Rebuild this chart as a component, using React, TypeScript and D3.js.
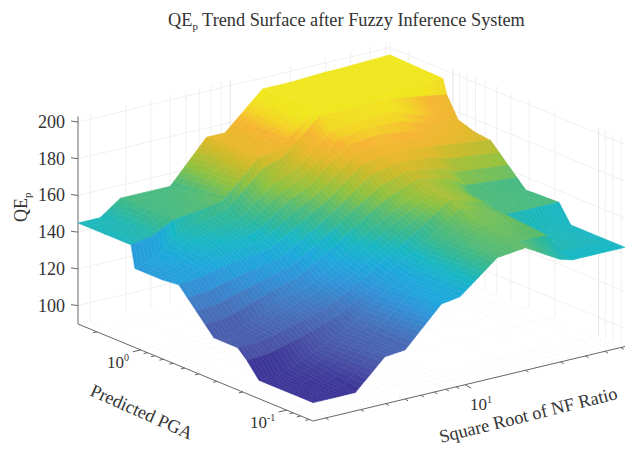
import React from 'react';
import * as d3 from 'd3';

// surface grid: square root of NF ratio across, predicted PGA down
const nfValues = [1.73, 2.23, 2.82, 3.96, 5.0, 7.6, 9.4, 14.5, 20, 29.7, 34.4, 63];
const pgaValues = [2.7, 1.17, 1.1, 0.92, 0.71, 0.55, 0.316, 0.217, 0.187, 0.155, 0.08, 0.066];
const qeValues = [
  [145, 145, 153, 153, 153, 175, 175, 194, 194, 195, 195, 196],
  [145, 147, 153, 155, 157, 176, 177, 195, 195, 195, 195, 195],
  [133, 136, 146, 150, 153, 171, 174, 192, 192, 193, 192, 187],
  [133, 137, 145, 148, 150, 165, 169, 186, 188, 189, 186, 176],
  [133, 136, 142, 145, 147, 160, 165, 182, 184, 182, 180, 173],
  [134, 135, 138, 140, 142, 154, 160, 176, 178, 177, 176, 172],
  [113, 114, 118, 125, 128, 140, 148, 160, 167, 161, 155, 153],
  [113, 113, 116, 120, 124, 135, 142, 155, 166, 160, 154, 153.5],
  [108, 109, 112, 117, 121, 133, 140, 152, 163, 157, 154, 153.7],
  [100, 101, 105, 113, 118, 133, 138, 153, 160, 158, 146, 144],
  [100, 100, 101, 115, 117, 136, 138.5, 155, 157, 156, 146, 144],
  [100, 100, 100, 115.6, 116.7, 137, 138.5, 155, 156.7, 146, 144, 144],
];

const zTicks = [100, 120, 140, 160, 180, 200];
const colorStops = [100, 108, 115, 122, 130, 137, 144, 150, 155, 162, 170, 175, 180, 185, 190];
const colorValues = ['#3d3597', '#4850a6', '#4a62b0', '#4477c0', '#3193d8', '#1fa8dc', '#19b7c4', '#34b894', '#52bb78', '#8fc240', '#c9bb2a', '#e8b82a', '#f6b432', '#f3d524', '#f0e61e'];

const nf = d3.scaleLog().domain([1.73, 63]).range([0, 1]);
const pga = d3.scaleLog().domain([2.7, 0.066]).range([0, 1]);
const zScale = d3.scaleLinear().domain([90, 200]).range([0, 202]);
const color = d3.scaleLinear<string>().domain(colorStops).range(colorValues).clamp(true);

// oblique projection of the MATLAB view: u along NF, v along PGA
const project = (u: number, v: number, z: number): [number, number] => [
  78 + 312 * u + 235 * v,
  324 - 74.5 * u + 97 * v - zScale(z),
];

const line = d3.line();

const bilinear = (i: number, j: number, s: number, t: number) => {
  const a = qeValues[i][j] * (1 - s) + qeValues[i][j + 1] * s;
  const b = qeValues[i + 1][j] * (1 - s) + qeValues[i + 1][j + 1] * s;
  return a * (1 - t) + b * t;
};

function buildFacets() {
  const facets: { d: string; fill: string }[] = [];
  const us = nfValues.map((d) => nf(d));
  const vs = pgaValues.map((d) => pga(d));
  // painter's order: back corner first
  for (let i = 0; i < vs.length - 1; i++) {
    const nv = Math.max(1, Math.round((vs[i + 1] - vs[i]) / 0.04));
    for (let a = 0; a < nv; a++) {
      for (let j = us.length - 2; j >= 0; j--) {
        const nu = Math.max(1, Math.round((us[j + 1] - us[j]) / 0.012));
        for (let b = nu - 1; b >= 0; b--) {
          const s0 = b / nu, s1 = (b + 1) / nu, t0 = a / nv, t1 = (a + 1) / nv;
          const pu = (s: number) => us[j] + (us[j + 1] - us[j]) * s;
          const pv = (t: number) => vs[i] + (vs[i + 1] - vs[i]) * t;
          const pts = [
            project(pu(s0), pv(t0), bilinear(i, j, s0, t0)),
            project(pu(s1), pv(t0), bilinear(i, j, s1, t0)),
            project(pu(s1), pv(t1), bilinear(i, j, s1, t1)),
            project(pu(s0), pv(t1), bilinear(i, j, s0, t1)),
          ];
          facets.push({ d: line(pts) + 'Z', fill: color(bilinear(i, j, s0, t1)) });
        }
      }
    }
  }
  return facets;
}

const seg = (p: [number, number], q: [number, number]) => line([p, q]) as string;

export default function App() {
  const facets = buildFacets();
  const nfTicks = nf.ticks().filter((d) => d >= 1.73 && d <= 63);
  const pgaTicks = pga.ticks().filter((d) => d >= 0.066 && d <= 2.7);
  const isMajor = (d: number) => Math.abs(Math.log10(d) - Math.round(Math.log10(d))) < 1e-6;
  const grid = '#ececec';
  const serif = '"Liberation Serif", serif';

  return (
    <svg width={625} height={449} style={{ position: 'absolute', left: 0, top: 0, background: '#fff' }} fontFamily={serif} fill="#333">
      <defs>
        <filter id="soft" x="-5%" y="-5%" width="110%" height="110%">
          <feGaussianBlur stdDeviation={0.7} />
        </filter>
      </defs>

      {/* back walls and floor grid */}
      <g stroke={grid} strokeWidth={0.8} fill="none">
        {zTicks.map((z) => (
          <g key={z}>
            <path d={seg(project(0, 0, z), project(1, 0, z))} />
            <path d={seg(project(1, 0, z), project(1, 1, z))} />
          </g>
        ))}
        {nfTicks.map((d) => (
          <g key={d}>
            <path d={seg(project(nf(d), 0, 90), project(nf(d), 0, 203))} stroke={isMajor(d) ? '#dedede' : grid} />
            <path d={seg(project(nf(d), 0, 90), project(nf(d), 1, 90))} strokeDasharray="1 3" />
          </g>
        ))}
        {pgaTicks.map((d) => (
          <g key={d}>
            <path d={seg(project(1, pga(d), 90), project(1, pga(d), 203))} stroke={isMajor(d) ? '#dedede' : grid} />
            <path d={seg(project(0, pga(d), 90), project(1, pga(d), 90))} strokeDasharray="1 3" />
          </g>
        ))}
        <path d={seg(project(1, 0, 90), project(1, 0, 203))} />
      </g>

      {/* axis lines and ticks */}
      <g stroke="#666" strokeWidth={1} fill="none">
        <path d={seg(project(0, 0, 90), project(0, 0, 203))} />
        <path d={seg(project(0, 0, 90), project(0, 1, 90))} />
        <path d={seg(project(0, 1, 90), project(1, 1, 90))} />
        {zTicks.map((z) => {
          const [x, y] = project(0, 0, z);
          return <path key={z} d={seg([x - 7, y - 1], [x, y])} />;
        })}
        {nfTicks.map((d) => {
          const [x, y] = project(nf(d), 1, 90);
          const len = isMajor(d) ? 6 : 3;
          return <path key={d} d={seg([x, y], [x + len, y + len * 0.6])} />;
        })}
        {pgaTicks.map((d) => {
          const [x, y] = project(0, pga(d), 90);
          const len = isMajor(d) ? 8 : 4;
          return <path key={d} d={seg([x, y], [x - len, y + len * 0.22])} />;
        })}
      </g>

      {/* surface */}
      <g filter="url(#soft)">
        {facets.map((f, i) => (
          <path key={i} d={f.d} fill={f.fill} stroke={f.fill} strokeWidth={0.5} strokeLinejoin="round" />
        ))}
      </g>

      {/* text */}
      <text x={168} y={26} fontSize={18.3}>
        QE<tspan fontSize={11} dy={4}>p</tspan><tspan dy={-4}> Trend Surface after Fuzzy Inference System</tspan>
      </text>
      {zTicks.map((z) => (
        <text key={z} x={65} y={project(0, 0, z)[1] + 6} fontSize={18} textAnchor="end">{z}</text>
      ))}
      <text transform="translate(27,222) rotate(-90)" fontSize={18}>
        QE<tspan fontSize={11} dy={4}>p</tspan>
      </text>
      <text x={107} y={368} fontSize={17}>10<tspan fontSize={10} dy={-7}>0</tspan></text>
      <text x={250} y={428} fontSize={17}>10<tspan fontSize={10} dy={-7}>-1</tspan></text>
      <text x={470} y={410} fontSize={17}>10<tspan fontSize={10} dy={-7}>1</tspan></text>
      <text transform="translate(89,395) rotate(24)" fontSize={18.3}>Predicted PGA</text>
      <text transform="translate(441,443) rotate(-14)" fontSize={18.3}>Square Root of NF Ratio</text>
    </svg>
  );
}
